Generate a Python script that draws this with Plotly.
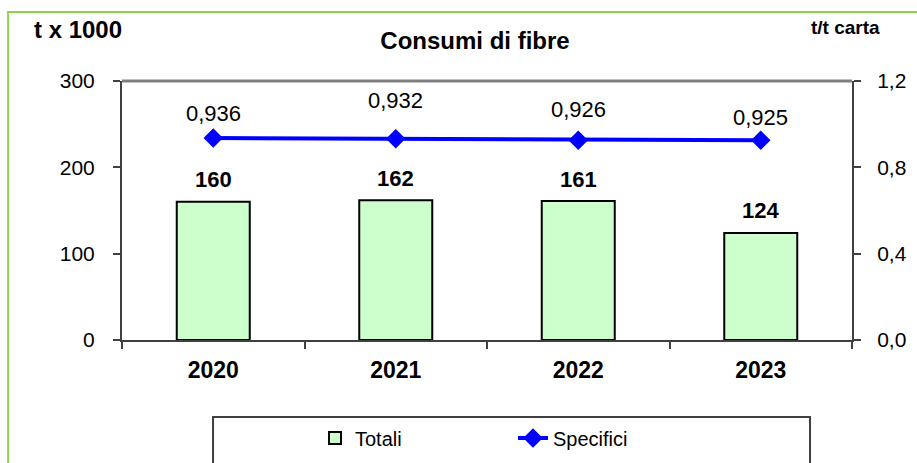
import plotly.graph_objects as go

years = ["2020", "2021", "2022", "2023"]
totali = [160, 162, 161, 124]
specifici = [0.936, 0.932, 0.926, 0.925]

left_ticks = [0, 100, 200, 300]
right_ticks = [0.0, 0.4, 0.8, 1.2]

# label offsets (px) for line labels, as placed in the original
spec_label_shift = [24, 38, 31, 23]

FONT = "Liberation Sans"
AXC = "#404040"

fig = go.Figure()
fig.add_trace(go.Bar(
    x=years, y=totali, name="Totali", width=0.4,
    marker=dict(color="#CCFFCC", line=dict(color="#000000", width=2)),
    yaxis="y",
))
fig.add_trace(go.Scatter(
    x=years, y=specifici, name="Specifici", mode="lines+markers",
    line=dict(color="#0000FF", width=4),
    marker=dict(symbol="diamond", size=15, color="#0000FF"),
    yaxis="y2",
))

ann = []
for i, v in enumerate(totali):
    ann.append(dict(x=i, y=v, xref="x", yref="y", text=f"<b>{v}</b>",
                    showarrow=False, yshift=22, yanchor="middle",
                    font=dict(family=FONT, size=22, color="#000")))
for i, (v, s) in enumerate(zip(specifici, spec_label_shift)):
    ann.append(dict(x=i, y=v, xref="x", yref="y2", text=f"{v:.3f}".replace(".", ","),
                    showarrow=False, yshift=s, yanchor="middle",
                    font=dict(family=FONT, size=22, color="#000")))
ann.append(dict(x=-0.123, y=1.197, xref="paper", yref="paper", text="<b>t x 1000</b>",
                showarrow=False, xanchor="left", yanchor="middle",
                font=dict(family=FONT, size=24, color="#000")))
ann.append(dict(x=0.941, y=1.208, xref="paper", yref="paper", text="<b>t/t carta</b>",
                showarrow=False, xanchor="left", yanchor="middle",
                font=dict(family=FONT, size=19, color="#000")))

shapes = [
    dict(type="rect", xref="paper", yref="paper", x0=-0.156, x1=1.2, y0=-0.7, y1=1.266,
         line=dict(color="#92D050", width=2), fillcolor="rgba(0,0,0,0)", layer="below"),
    dict(type="line", xref="paper", yref="paper", x0=0, x1=1, y0=1, y1=1,
         line=dict(color="#808080", width=3)),
    dict(type="rect", xref="paper", yref="paper", x0=0.1247, x1=0.9425, y0=-0.6, y1=-0.297,
         line=dict(color=AXC, width=2), fillcolor="rgba(0,0,0,0)"),
]

fig.update_layout(
    width=917, height=463,
    margin=dict(l=122, r=65, t=81, b=123, autoexpand=False),
    paper_bgcolor="white", plot_bgcolor="white",
    separators=",.",
    font=dict(family=FONT, color="#000"),
    title=dict(text="<b>Consumi di fibre</b>", x=0.518, xanchor="center",
               y=1 - 41 / 463, yanchor="middle", font=dict(family=FONT, size=24, color="#000")),
    annotations=ann,
    shapes=shapes,
    showlegend=True,
    legend=dict(orientation="h", x=(315 - 122) / 730, xanchor="left",
                y=(340 - 438) / 259, yanchor="middle",
                entrywidth=153, entrywidthmode="pixels",
                bgcolor="rgba(0,0,0,0)", borderwidth=0,
                font=dict(family=FONT, size=20, color="#000")),
    xaxis=dict(type="category", range=[-0.5, 3.5], tickmode="array", tickvals=years,
               ticktext=[f"<b>{y}</b>" for y in years], tickangle=0,
               tickfont=dict(family=FONT, size=23, color="#000"),
               showline=True, linecolor=AXC, linewidth=2,
               ticks="outside", tickson="boundaries", ticklen=7, tickcolor=AXC, tickwidth=2,
               showgrid=False, zeroline=False, ticklabelstandoff=8),
    yaxis=dict(range=[0, 300], tickvals=left_ticks, showgrid=False, zeroline=False,
               showline=True, linecolor=AXC, linewidth=2,
               ticks="outside", ticklen=7, tickcolor=AXC, tickwidth=2,
               tickfont=dict(family=FONT, size=21, color="#000"), ticklabelstandoff=14),
    yaxis2=dict(range=[0, 1.2], tickvals=right_ticks, tickformat=".1f",
                overlaying="y", side="right", showgrid=False, zeroline=False,
                showline=True, linecolor=AXC, linewidth=2,
                ticks="outside", ticklen=7, tickcolor=AXC, tickwidth=2,
                tickfont=dict(family=FONT, size=21, color="#000"), ticklabelstandoff=12),
)

fig.write_html("out.html")
